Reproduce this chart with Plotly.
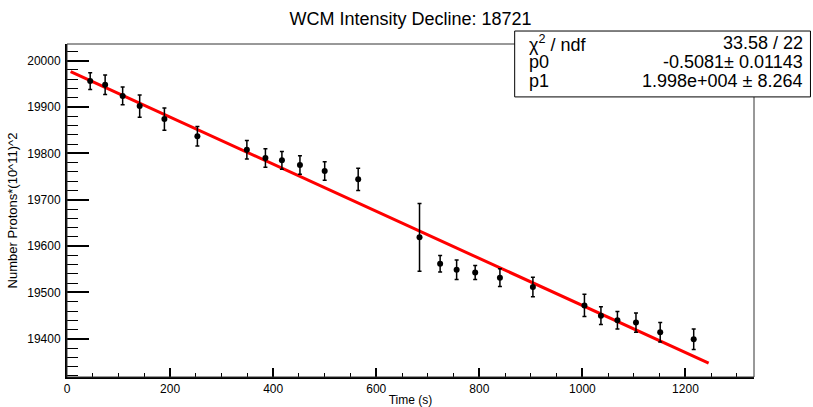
import plotly.graph_objects as go

# measured points (time in s, intensity, error)
time_s = [45, 74, 108, 141, 189, 253, 349, 385, 417, 452, 500, 565,
          684, 724, 756, 792, 840, 904, 1004, 1036, 1068, 1104, 1151, 1216]
protons = [19956, 19948, 19924, 19902, 19874, 19837, 19808, 19790, 19785, 19775, 19762, 19744,
           19619, 19562, 19549, 19543, 19532, 19512, 19472, 19450, 19440, 19435, 19414, 19399]
errors = [18, 21, 19, 24, 24, 21, 20, 20, 19, 20, 20, 24,
          73, 18, 21, 15, 19, 21, 24, 19, 19, 21, 21, 22]

# linear fit result: y = p1 + p0 * x
p0 = -0.5081
p1 = 19980
fit_range = [7, 1245]
fit_y = [p1 + p0 * t for t in fit_range]

stats_labels = ["χ<sup>2</sup> / ndf", "p0", "p1"]
stats_values = ["33.58 / 22", "-0.5081± 0.01143", "1.998e+004 ± 8.264"]

FONT = "Liberation Sans, Arial, sans-serif"
W, H = 813, 407
L, R, T, B = 67, 58.5, 44, 29.5
PW, PH = W - L - R, H - T - B


def px(x):
    # pixel x -> paper x (paper is the plot area)
    return (x - L) / PW


def py(y):
    return (H - B - y) / PH


fig = go.Figure()

fig.add_trace(go.Scatter(
    x=fit_range, y=fit_y, mode='lines',
    line=dict(color='#ff0000', width=3), hoverinfo='skip'))

fig.add_trace(go.Scatter(
    x=time_s, y=protons, mode='markers',
    marker=dict(color='black', size=6),
    error_y=dict(type='data', array=errors, color='black', thickness=1.5, width=2)))

fig.update_layout(
    width=W, height=H, autosize=False,
    margin=dict(l=L, r=R, t=T, b=B, autoexpand=False),
    paper_bgcolor='white', plot_bgcolor='white',
    showlegend=False,
    font=dict(family=FONT, color='black', size=12),
    title=dict(text="WCM Intensity Decline: 18721", x=0.505, xanchor='center',
               y=1 - 19 / H, yanchor='middle', font=dict(size=18)),
)

fig.update_xaxes(
    range=[0, 1333], showgrid=False, zeroline=False, automargin=False,
    showline=True, linecolor='black', linewidth=2, mirror=False,
    ticks='inside', ticklen=9, tickwidth=1.5, tickcolor='black',
    dtick=200, tick0=0, tickfont=dict(size=12),
    minor=dict(ticks='inside', ticklen=4, dtick=50, tickcolor='black', tickwidth=1),
    title=dict(text="Time (s)", font=dict(size=12), standoff=0),
)
fig.update_yaxes(
    range=[19317.7, 20036], showgrid=False, zeroline=False, automargin=False,
    showline=True, linecolor='black', linewidth=2,
    ticks='inside', ticklen=22, tickwidth=1.5, tickcolor='black',
    dtick=100, tick0=0, tickformat='d', tickfont=dict(size=12), ticklabelstandoff=2,
    minor=dict(ticks='inside', ticklen=11, dtick=20, tickcolor='black', tickwidth=1),
    title=dict(text="Number Protons*(10^11)^2", font=dict(size=13), standoff=7),
)

# thin top/right frame
fig.add_shape(type='rect', xref='paper', yref='paper', x0=0, x1=1, y0=0, y1=1,
              line=dict(color='#333333', width=1), layer='above')

# stats box
fig.add_shape(type='rect', xref='paper', yref='paper',
              x0=px(515), x1=px(811), y0=py(97), y1=py(31),
              line=dict(color='black', width=1), fillcolor='white', layer='above')
rows_y = [43, 62, 81]
for lab, val, ry in zip(stats_labels, stats_values, rows_y):
    fig.add_annotation(xref='paper', yref='paper', x=px(527), y=py(ry),
                       text=lab, showarrow=False, xanchor='left', yanchor='middle',
                       font=dict(size=18))
    fig.add_annotation(xref='paper', yref='paper', x=px(806), y=py(ry),
                       text=val, showarrow=False, xanchor='right', yanchor='middle',
                       font=dict(size=18))

fig.write_html("out.html", config={'displayModeBar': False},
               post_script="document.body.style.margin='0';")
